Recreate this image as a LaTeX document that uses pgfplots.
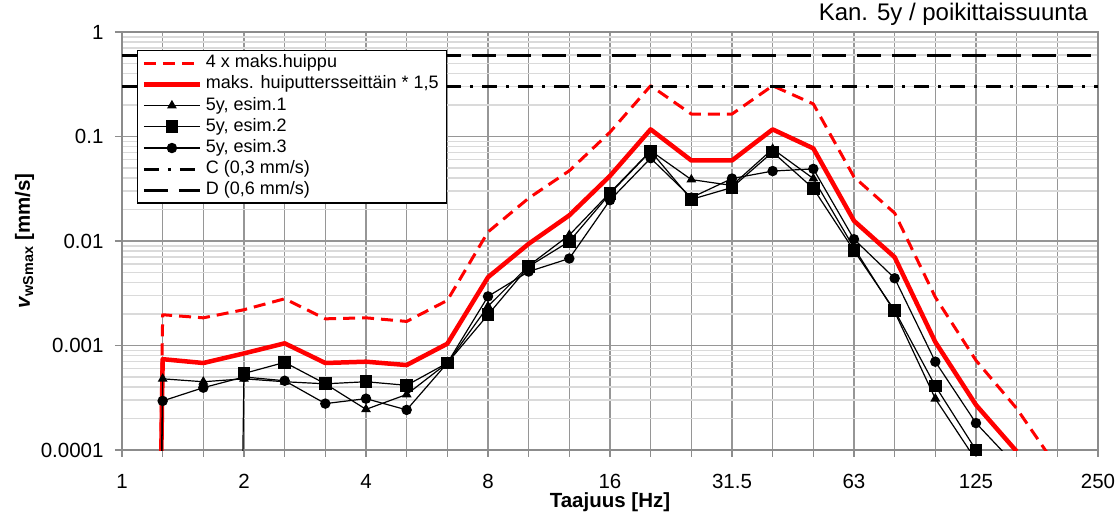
\documentclass[border=0pt]{standalone}
\usepackage{pgfplots}
\usepackage{pgfplotstable}
\pgfplotsset{compat=1.18}
\usepackage{fontspec}
\setmainfont{Liberation Sans}
\definecolor{gridgray}{RGB}{150,150,150}
\definecolor{lightgridgray}{RGB}{218,218,218}
\definecolor{axisgray}{RGB}{140,140,140}

% k = index of 1/3-octave band (0 = 1 Hz), f = frequency [Hz], v = velocity [mm/s]
\pgfplotstableread{
k f v
0 1 1e-30
1 1.25 0.00197
2 1.6 0.00184
3 2 0.0022
4 2.5 0.0028
5 3.15 0.0018
6 4 0.00184
7 5 0.0017
8 6.3 0.0027
9 8 0.0122
10 10 0.0257
11 12.5 0.047
12 16 0.11
13 20 0.306
14 25 0.164
15 31.5 0.164
16 40 0.306
17 50 0.205
18 63 0.041
19 80 0.0185
20 100 0.0029
21 125 0.00072
22 160 0.00025
23 200 0.000068
}\tblfour

\pgfplotstableread{
k f v
0 1 1e-30
1 1.25 0.00074
2 1.6 0.00068
3 2 0.00084
4 2.5 0.00105
5 3.15 0.00068
6 4 0.0007
7 5 0.00065
8 6.3 0.00104
9 8 0.0045
10 10 0.0094
11 12.5 0.0176
12 16 0.042
13 20 0.117
14 25 0.059
15 31.5 0.059
16 40 0.117
17 50 0.077
18 63 0.0156
19 80 0.0070
20 100 0.00108
21 125 0.00027
22 160 0.000097
}\tblmax

\pgfplotstableread{
k f v
1 1.25 0.00048
2 1.6 0.00045
3 2 0.00048
4 2.5 0.00045
5 3.15 0.00043
6 4 0.000245
7 5 0.00034
8 6.3 0.00068
9 8 0.00237
10 10 0.0058
11 12.5 0.0114
12 16 0.029
13 20 0.073
14 25 0.0387
15 31.5 0.034
16 40 0.076
17 50 0.0396
18 63 0.0086
19 80 0.0021
20 100 0.00031
}\tblone

\pgfplotstableread{
k f v
3 2 0.00054
4 2.5 0.00069
5 3.15 0.00043
6 4 0.00045
7 5 0.000416
8 6.3 0.00068
9 8 0.00197
10 10 0.0057
11 12.5 0.0099
12 16 0.0284
13 20 0.0724
14 25 0.025
15 31.5 0.0325
16 40 0.071
17 50 0.0318
18 63 0.0081
19 80 0.00216
20 100 0.00041
21 125 0.0001
}\tbltwo

\pgfplotstableread{
k f v
1 1.25 0.000295
2 1.6 0.000395
3 2 0.0005
4 2.5 0.00046
5 3.15 0.000278
6 4 0.00031
7 5 0.000242
8 6.3 0.00068
9 8 0.00295
10 10 0.0051
11 12.5 0.0068
12 16 0.0246
13 20 0.062
14 25 0.026
15 31.5 0.0396
16 40 0.0467
17 50 0.049
18 63 0.0104
19 80 0.0044
20 100 0.0007
21 125 0.000181
}\tblthree

\begin{document}
\begin{tikzpicture}
\begin{axis}[
  at={(0pt,0pt)}, anchor=south west,
  scale only axis, width=976pt, height=418pt,
  xmin=0, xmax=8, ymode=log, ymin=1e-4, ymax=1,
  xtick={0,...,8}, xticklabels={1,2,4,8,16,31.5,63,125,250},
  minor x tick num=2,
  ytick={1e-4,1e-3,1e-2,1e-1,1}, yticklabels={0.0001,0.001,0.01,0.1,1},
  xmajorgrids, xminorgrids, ymajorgrids, yminorgrids,
  major x grid style={gridgray, line width=1.5pt},
  minor x grid style={gridgray, line width=1.5pt},
  major y grid style={gridgray, line width=1.5pt},
  minor y grid style={lightgridgray, line width=1.5pt},
  axis line style={axisgray, line width=2pt},
  tick align=outside, tick pos=left,
  major tick length=7pt, minor tick length=7pt,
  tick style={axisgray, line width=1.5pt},
  minor y tick style={draw=none},
  tick label style={font=\fontsize{20.5}{24}\selectfont},
  yticklabel style={xshift=-8pt},
  xticklabel style={yshift=-14pt},
  xlabel={\textbf{Taajuus [Hz]}},
  xlabel style={font=\fontsize{20.5}{24}\selectfont, at={(axis description cs:0.5,-0.1385)}, anchor=base},
  ylabel={\textbf{\textit{v}\textsubscript{wSmax} [mm/s]}},
  ylabel style={font=\fontsize{20.5}{24}\selectfont, at={(axis description cs:-0.0943,0.5)}, anchor=base, rotate=0},
  legend style={at={(axis description cs:0.0154,0.957)}, anchor=north west,
    draw=black, line width=1.3pt, fill=white,
    font=\fontsize{18}{20}\selectfont,
    inner xsep=4pt, inner ysep=2pt,
    nodes={text height=13pt, text depth=4pt, inner ysep=2.1pt, inner xsep=3.8pt},
    cells={anchor=west}},
  legend image code/.code={\draw[mark repeat=2,mark phase=2,#1] plot coordinates {(0pt,0pt)(28pt,0pt)(56pt,0pt)};},
]
\addplot[red, line width=3pt, dash pattern=on 12pt off 7pt, line join=round] table[x expr=\thisrow{k}/3, y=v] {\tblfour};
\addlegendentry{4 x maks.huippu}
\addplot[red, line width=4.5pt, line join=round] table[x expr=\thisrow{k}/3, y=v] {\tblmax};
\addlegendentry{maks. huiputtersseitt\"ain * 1,5}
\addplot[black, line width=1.2pt, mark=triangle*, mark size=4.5pt, mark options={solid, fill=black}] table[x expr=\thisrow{k}/3, y=v] {\tblone};
\addlegendentry{5y, esim.1}
\addplot[black, line width=1.2pt, mark=square*, mark size=5.8pt, mark options={solid, fill=black}] table[x expr=\thisrow{k}/3, y=v] {\tbltwo};
\addlegendentry{5y, esim.2}
\addplot[black, line width=1.2pt, mark=*, mark size=4.6pt, mark options={solid, fill=black}] table[x expr=\thisrow{k}/3, y=v] {\tblthree};
\addlegendentry{5y, esim.3}
\addplot[black, line width=3pt, dash pattern=on 15pt off 9pt on 3pt off 9pt] coordinates {(0,0.3) (8,0.3)};
\addlegendentry{C (0,3 mm/s)}
\addplot[black, line width=3pt, dash pattern=on 24pt off 11pt] coordinates {(0,0.6) (8,0.6)};
\addlegendentry{D (0,6 mm/s)}
% off-scale parts of the measured series (values below the axis)
\addplot[black, line width=1.2pt, forget plot] coordinates {(0,1e-30) (0.33333,0.00048)};
\addplot[black, line width=1.2pt, forget plot] coordinates {(0,1e-30) (0.33333,0.000295)};
\addplot[black, line width=1.2pt, forget plot] coordinates {(0.66667,1e-30) (1,0.00054)};
\addplot[black, line width=1.2pt, forget plot] coordinates {(6.66667,0.00031) (7,0.00008)};
\addplot[black, line width=1.2pt, forget plot] coordinates {(7,0.000181) (7.33333,0.00007)};
\addplot[black, line width=1.2pt, forget plot] coordinates {(7,0.0001) (7.33333,0.00004)};
\end{axis}
\node[anchor=base east, font=\fontsize{24}{28}\selectfont, inner sep=0pt] at (966pt,429pt) {Kan. 5y / poikittaissuunta};
\pgfresetboundingbox
\path[use as bounding box] (-122pt,-67pt) rectangle (998pt,450pt);
\end{tikzpicture}
\end{document}
